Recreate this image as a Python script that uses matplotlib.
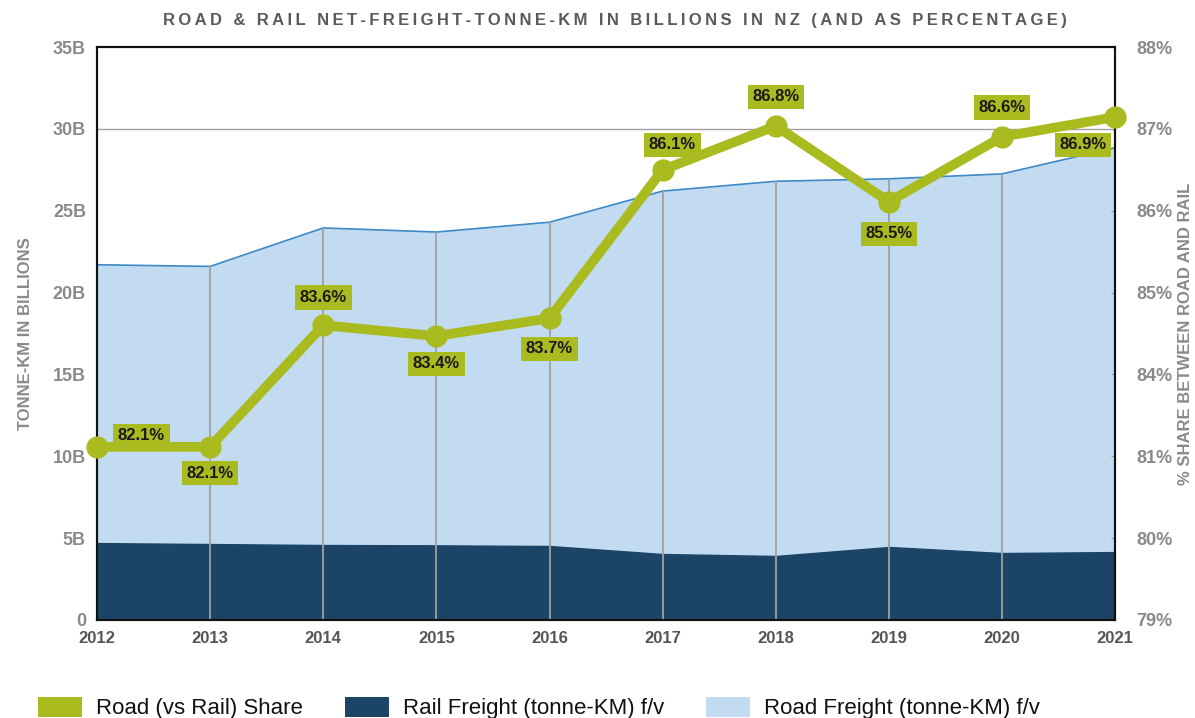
import matplotlib
matplotlib.use("Agg")
import matplotlib.pyplot as plt
import numpy as np
from matplotlib.patches import Patch

years = [2012, 2013, 2014, 2015, 2016, 2017, 2018, 2019, 2020, 2021]
road_bn = [21.7, 21.6, 23.95, 23.7, 24.3, 26.2, 26.8, 26.95, 27.25, 28.85]
rail_bn = [4.70, 4.64, 4.58, 4.56, 4.52, 4.03, 3.91, 4.46, 4.09, 4.15]
share_pct = [81.72, 81.72, 83.63, 83.46, 83.74, 86.07, 86.76, 85.57, 86.59, 86.9]
share_labels = ["82.1%", "82.1%", "83.6%", "83.4%", "83.7%", "86.1%", "86.8%", "85.5%", "86.6%", "86.9%"]
left_ticks = [0, 5, 10, 15, 20, 25, 30, 35]
left_ticklabels = ["0", "5B", "10B", "15B", "20B", "25B", "30B", "35B"]
right_ticklabels = ["79%", "80%", "81%", "84%", "85%", "86%", "87%", "88%"]
title = "ROAD & RAIL NET-FREIGHT-TONNE-KM IN BILLIONS IN NZ (AND AS PERCENTAGE)"

# label offsets (points) - styling
label_offsets = [(32, 8), (0, -19), (0, 20), (0, -20), (0, -22), (7, 18), (0, 21), (0, -23), (0, 21), (-23, -20)]

plt.rcParams["font.family"] = ["Liberation Sans", "DejaVu Sans"]

GREEN = "#a9bb1f"
NAVY = "#1b4467"
LIGHT = "#c3dbf0"
EDGE = "#3d8ac7"
GRAY = "#8a8a8a"

fig = plt.figure(figsize=(11.95, 7.18), dpi=100)
ax = fig.add_axes([0.0812, 0.1365, 0.852, 0.798])

x = np.array(years)
ax.fill_between(x, 0, road_bn, color=LIGHT, zorder=1)
ax.plot(x, road_bn, color=EDGE, lw=1.2, zorder=2)
ax.fill_between(x, 0, rail_bn, color=NAVY, zorder=2)
ax.vlines(x, 0, road_bn, colors="#a0a0a0", lw=1.3, zorder=3)
ax.axhline(30, color="#a0a0a0", lw=1.0, zorder=0.5)

ax.set_xlim(2012, 2021)
ax.set_ylim(0, 35)
ax.set_xticks(years)
ax.set_xticklabels([str(y) for y in years], fontsize=12, fontweight="bold", color="#555555")
ax.set_yticks(left_ticks)
ax.set_yticklabels(left_ticklabels, fontsize=13, fontweight="bold", color=GRAY)
ax.tick_params(axis="both", length=0, pad=8)
ax.set_ylabel("TONNE-KM IN BILLIONS", fontsize=12, fontweight="bold", color=GRAY, labelpad=14)
for s in ax.spines.values():
    s.set_color("#111111")
    s.set_linewidth(1.5)

ax2 = ax.twinx()
ax2.set_ylim(79, 88)
ax2.set_yticks(np.linspace(79, 88, 8))
ax2.set_yticklabels(right_ticklabels, fontsize=13, fontweight="bold", color=GRAY)
ax2.tick_params(axis="y", length=3, direction="in", pad=15, color="#999999")
ax2.set_ylabel("% SHARE BETWEEN ROAD AND RAIL", fontsize=12, fontweight="bold", color=GRAY,
               labelpad=4, rotation=90)
for s in ax2.spines.values():
    s.set_color("#111111")
    s.set_linewidth(1.5)

ax2.plot(x, share_pct, color=GREEN, lw=7, marker="o", ms=15, zorder=5, clip_on=False)
for xi, yi, lab, off in zip(x, share_pct, share_labels, label_offsets):
    ax2.annotate(lab, (xi, yi), xytext=off, textcoords="offset points", ha="center", va="center",
                 fontsize=12, fontweight="bold", color="#1a1a1a", zorder=6,
                 bbox=dict(boxstyle="square,pad=0.28", fc=GREEN, ec="none"), annotation_clip=False)

spaced_title = "\u2009".join(title)
fig.text(0.515, 0.972, spaced_title, ha="center", va="center", fontsize=12,
         fontweight="bold", color="#5a5a5a")

handles = [Patch(facecolor=GREEN, edgecolor="none"),
           Patch(facecolor=NAVY, edgecolor="none"),
           Patch(facecolor=LIGHT, edgecolor=EDGE, linewidth=0)]
leg = fig.legend(handles, ["Road (vs Rail) Share", "Rail Freight (tonne-KM) f/v", "Road Freight (tonne-KM) f/v"],
                 loc="center left", bbox_to_anchor=(0.015, 0.014), ncol=3, frameon=False,
                 prop={"size": 16}, handlelength=2.0, handleheight=1.0,
                 columnspacing=1.9, handletextpad=0.6)
for t in leg.get_texts():
    t.set_color("#111111")

fig.savefig("out.png", dpi=100)
